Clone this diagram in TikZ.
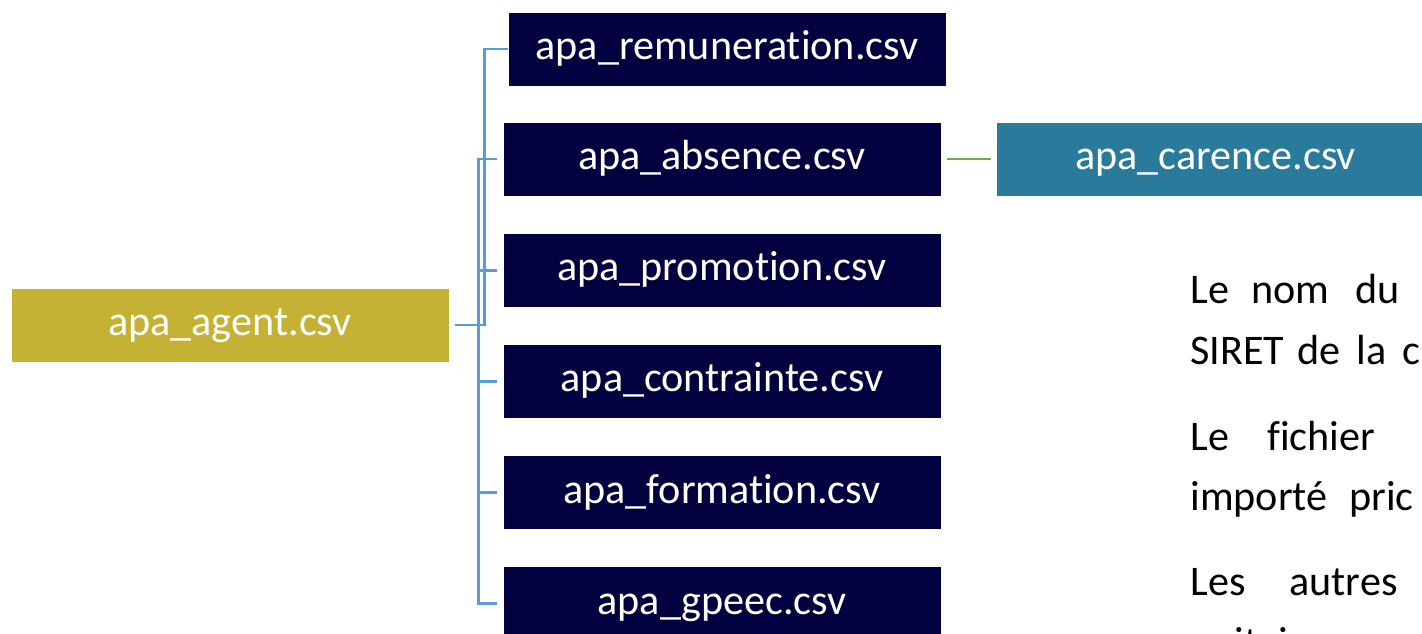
\documentclass[tikz,border=0pt]{standalone}
\usepackage{fontspec}
\setmainfont{Carlito}[RawFeature={-liga}]
\usetikzlibrary{positioning}

\definecolor{navybox}{RGB}{2,0,62}
\definecolor{goldbox}{RGB}{197,177,52}
\definecolor{tealbox}{RGB}{42,122,155}
\definecolor{linkblue}{RGB}{91,155,213}
\definecolor{linkgreen}{RGB}{112,173,71}

\tikzset{
  filebox/.style={minimum width=8.76cm, minimum height=1.48cm, inner sep=0pt,
    text height=17pt, text depth=5pt,
    text=white, draw=white, line width=0.4pt, font=\fontsize{24}{29}\selectfont},
  link/.style={draw=linkblue, line width=0.055cm},
  sublink/.style={draw=linkgreen, line width=0.055cm},
  note/.style={anchor=base west, inner sep=0pt, font=\fontsize{24}{29}\selectfont},
}

\begin{document}
\begin{tikzpicture}[x=0.02cm, y=-0.02cm]
        \useasboundingbox (0,0) rectangle (1422,634);
        \clip (0,0) rectangle (1422,634);

        % Main file
        \node [filebox, fill=goldbox] (agent) at (230,325) {apa\_agent.csv};

        % Linked files
        \node [filebox, fill=navybox] (remuneration) at (727,49) {apa\_remuneration.csv};
        \node [filebox, fill=navybox] (absence) at (722,159) {apa\_absence.csv};
        \node [filebox, fill=navybox, below=0.73cm of absence] (promotion) {apa\_promotion.csv};
        \node [filebox, fill=navybox, below=0.73cm of promotion] (contrainte) {apa\_contrainte.csv};
        \node [filebox, fill=navybox, below=0.73cm of contrainte] (formation) {apa\_formation.csv};
        \node [filebox, fill=navybox, below=0.73cm of formation] (gpeec) {apa\_gpeec.csv};
        \node [filebox, fill=tealbox, right=1.1cm of absence] (carence) {apa\_carence.csv};

        % Connectors
        \draw [link] ([xshift=3]agent.east) -- ++(30,0) |- (remuneration.west);
        \foreach \target in {absence,promotion,contrainte,formation,gpeec}
          \draw [link] ([xshift=3]agent.east) -- ++(24,0) |- ([xshift=-3]\target.west);
        \draw [sublink] ([xshift=3]absence.east) -- ([xshift=-3]carence.west);

        % Side text
        \foreach \word/\x/\y [count=\i] in {Le/1190/304, nom/1251/304, du/1355/304,
            SIRET/1190/365, de/1297/365, la/1356/365, c/1402/365,
            Le/1190/450, fichier/1267/450,
            importé/1190/510, pric/1349/510,
            Les/1190/595, autres/1289/595,
            unitairemen/1190/656}
          \node [note] (word\i) at (\x,\y) {\word};
\end{tikzpicture}
\end{document}
